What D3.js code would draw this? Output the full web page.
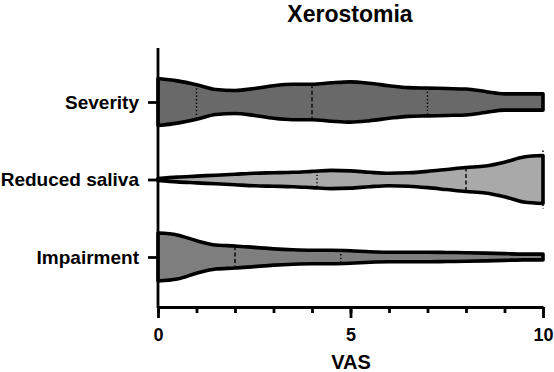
<!DOCTYPE html>
<html>
<head>
<meta charset="utf-8">
<script src="https://cdn.jsdelivr.net/npm/d3@7"></script>
<style>
    body { margin: 0; background: #fff; }
    text { font-family: "Liberation Sans", Arial, sans-serif; font-weight: bold; fill: #000; }
</style>
</head>
<body>
<div id="chart"></div>
<script>
// Xerostomia - horizontal violin plots of VAS scores

const categories = ['Severity', 'Reduced saliva', 'Impairment'];
const fills = ['#696969', '#a9a9a9', '#7e7e7e'];

const vasSteps = [0, 0.5, 1, 1.5, 2, 2.5, 3, 3.5, 4, 4.5, 5, 5.5, 6, 6.5, 7, 7.5, 8, 8.5, 9, 9.5, 10];

// relative density (1 = widest point of each violin)
const severityDensity = [0.98, 0.88, 0.72, 0.52, 0.48, 0.56, 0.68, 0.74, 0.74, 0.80, 0.84, 0.78, 0.68, 0.60, 0.58, 0.56, 0.54, 0.44, 0.34, 0.34, 0.34];
const salivaDensity   = [0.04, 0.10, 0.14, 0.18, 0.22, 0.26, 0.28, 0.30, 0.34, 0.38, 0.36, 0.30, 0.26, 0.28, 0.34, 0.42, 0.50, 0.56, 0.72, 0.94, 1.00];
const impairDensity   = [1.00, 0.92, 0.68, 0.50, 0.46, 0.40, 0.34, 0.30, 0.28, 0.28, 0.26, 0.22, 0.20, 0.20, 0.20, 0.19, 0.18, 0.16, 0.14, 0.12, 0.12];
const densities = [severityDensity, salivaDensity, impairDensity];

// quartiles: [Q1, median, Q3]
const quartiles = [
    [1, 4, 7],
    [4.13, 8, 10],
    [0, 2, 4.75]
];

const majorTicks = [0, 5, 10];
const minorTicks = d3.range(0, 11);

const width = 554, height = 372;

const svg = d3.select('#chart')
    .append('svg')
    .attr('width', width)
    .attr('height', height);

// scales
const x = d3.scaleLinear().domain([0, 10]).range([158, 543]);
const y = d3.scalePoint().domain(categories).range([102, 257]);
const w = d3.scaleLinear().domain([0, 1]).range([0, 24]);

// violins
const violin = svg.selectAll('.violin')
    .data(categories)
    .enter()
    .append('g')
    .attr('class', 'violin');

const area = (i) => d3.area()
    .x(d => x(d[0]))
    .y0(d => y(categories[i]) - w(d[1]))
    .y1(d => y(categories[i]) + w(d[1]))
    .curve(d3.curveMonotoneX);

violin.append('path')
    .attr('d', (d, i) => area(i)(vasSteps.map((v, j) => [v, densities[i][j]])) + 'Z')
    .style('fill', (d, i) => fills[i])
    .style('stroke', '#000')
    .style('stroke-width', 3.6)
    .style('stroke-linejoin', 'round');

// density at an arbitrary VAS value (linear between read points)
function densityAt(i, v) {
    const interp = d3.scaleLinear().domain(vasSteps).range(densities[i]);
    return interp(v);
}

// quartile lines
violin.each(function(cat, i) {
    const g = d3.select(this);
    quartiles[i].forEach((q, k) => {
        const hw = w(densityAt(i, q)) + (q === 10 ? 5 : 0);
        g.append('line')
            .attr('x1', x(q))
            .attr('x2', x(q))
            .attr('y1', y(cat) - hw)
            .attr('y2', y(cat) + hw)
            .style('stroke', '#000')
            .style('stroke-width', 1.4)
            .style('stroke-dasharray', k === 1 ? '4,2.5' : '1.4,2.2');
    });
});

// x axis: minor ticks, then major ticks with labels
svg.append('g')
    .attr('class', 'axis')
    .attr('transform', `translate(0,307)`)
    .call(d3.axisBottom(x).tickValues(minorTicks).tickSize(6).tickFormat(''))
    .call(g => g.select('.domain').remove())
    .call(g => g.selectAll('line').style('stroke', '#000').style('stroke-width', 2.8));

svg.append('g')
    .attr('class', 'axis')
    .attr('transform', `translate(0,307)`)
    .call(d3.axisBottom(x).tickValues(majorTicks).tickSize(11).tickSizeOuter(0).tickPadding(10))
    .call(g => g.select('.domain').style('stroke', '#000').style('stroke-width', 2.8))
    .call(g => g.selectAll('line').style('stroke', '#000').style('stroke-width', 2.8))
    .call(g => g.selectAll('text').style('font-size', '18px').style('font-family', '"Liberation Sans", Arial, sans-serif').style('font-weight', 'bold'));

// y axis
const yAxis = svg.append('g')
    .attr('class', 'axis')
    .attr('transform', `translate(${x(0)},0)`)
    .call(d3.axisLeft(y).tickSize(10).tickPadding(9))
    .call(g => g.select('.domain').remove())
    .call(g => g.selectAll('line').style('stroke', '#000').style('stroke-width', 2.8))
    .call(g => g.selectAll('text').style('font-size', '19px').style('font-family', '"Liberation Sans", Arial, sans-serif').style('font-weight', 'bold'));

yAxis.append('line')
    .attr('y1', 48)
    .attr('y2', 308)
    .style('stroke', '#000')
    .style('stroke-width', 2.8);

// titles
svg.append('text')
    .attr('x', 350)
    .attr('y', 22)
    .style('text-anchor', 'middle')
    .style('font-size', '23px')
    .text('Xerostomia');

svg.append('text')
    .attr('x', 351)
    .attr('y', 369)
    .style('text-anchor', 'middle')
    .style('font-size', '20px')
    .text('VAS');
</script>
</body>
</html>
